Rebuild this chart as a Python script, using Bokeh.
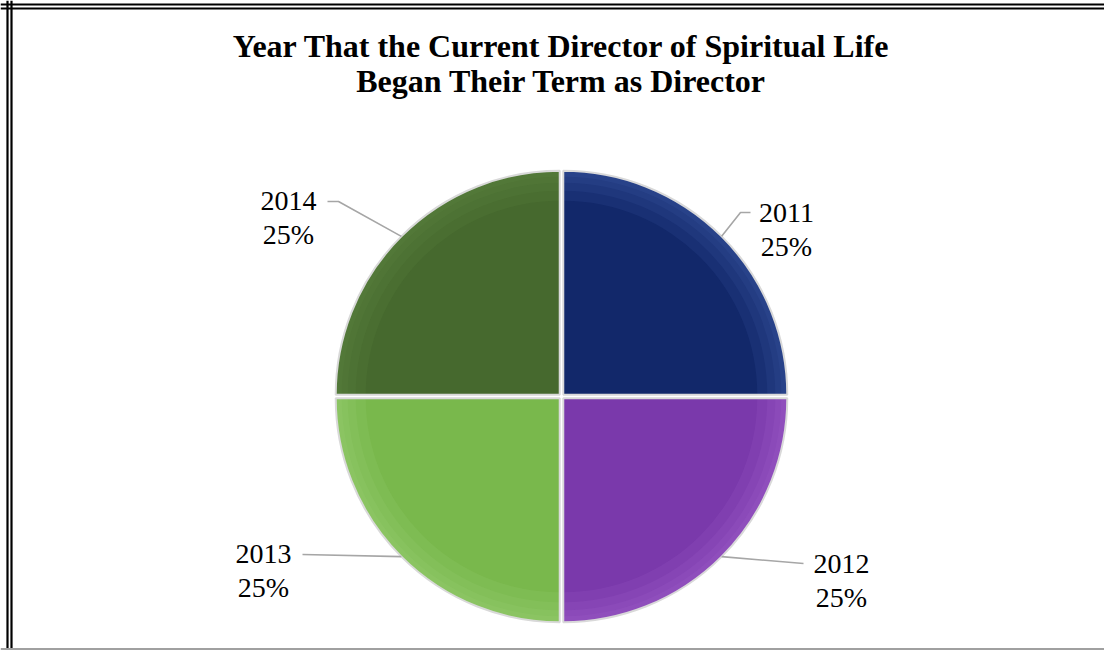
import math
from bokeh.plotting import figure
from bokeh.models import Range1d, Span, ColumnDataSource
from bokeh.core.properties import value
from bokeh.embed import file_html
from bokeh.resources import INLINE

# ---- data ----
title_lines = ["Year That the Current Director of Spiritual Life",
               "Began Their Term as Director"]
years = ["2011", "2012", "2013", "2014"]
shares = [25, 25, 25, 25]

# ---- styles ----
colors = ["#12286a", "#7a39ab", "#79b84c", "#46692e"]
rim_colors = ["#4464b0", "#a86ad8", "#a4d67e", "#668f48"]
FONT = "Liberation Serif"

# ---- layout (page pixel coordinates -> data: x = page x, y = 650 - page y) ----
W, H = 1104, 650
CX, CY = 561, 650 - 396
R = 224
EXPLODE = 2.5
# label anchor (first line) relative to pie centre
label_dx = [225, 280, -298, -273]
label_dy = [184, -167, -157, 196]
# leader: elbow and end relative to centre
elbow_dx = [179, 242, -259, -223]
elbow_dy = [184, -167, -158, 195]
end_dx = [189, 242, -259, -234]
end_dy = [184, -167, -158, 195]
LINE_GAP = 34

p = figure(width=W, height=H, output_backend="svg", toolbar_location=None,
           x_range=Range1d(0, W), y_range=Range1d(0, H),
           min_border=0, outline_line_color=None)
p.axis.visible = False
p.grid.visible = False
p.background_fill_color = "white"
p.border_fill_color = "white"

# frame lines (double border on top and left, thin grey at bottom)
for loc in [7, 11]:
    p.add_layout(Span(location=loc, dimension="height", line_color="black", line_width=2.2))
for loc in [646, 642]:
    p.add_layout(Span(location=loc, dimension="width", line_color="black", line_width=2.2))
p.add_layout(Span(location=1.5, dimension="width", line_color="#a0a0a0", line_width=2))

# wedges
total = float(sum(shares))
starts, ends, xs, ys, mids = [], [], [], [], []
cum = 0.0
for s in shares:
    a0 = math.pi / 2 - cum / total * 2 * math.pi
    cum += s
    a1 = math.pi / 2 - cum / total * 2 * math.pi
    m = (a0 + a1) / 2
    starts.append(a0)
    ends.append(a1)
    mids.append(m)
    xs.append(CX + EXPLODE * math.cos(m))
    ys.append(CY + EXPLODE * math.sin(m))

src = ColumnDataSource(dict(x=xs, y=ys, start=starts, end=ends, color=colors, rim=rim_colors))
p.wedge(x="x", y="y", radius=R, start_angle="start", end_angle="end", direction="clock",
        fill_color="color", line_color=None, source=src)
# bevel-like lighter rim (soft gradient by stacking)
for inner in [R - 30, R - 20, R - 12, R - 6]:
    p.annular_wedge(x="x", y="y", inner_radius=inner, outer_radius=R, start_angle="start",
                    end_angle="end", direction="clock", fill_color="rim", fill_alpha=0.14,
                    line_color=None, source=src)
p.wedge(x="x", y="y", radius=R, start_angle="start", end_angle="end", direction="clock",
        fill_color=None, line_color="#d9d9d9", line_width=2, source=src)

# leader lines
lx, ly = [], []
for i, m in enumerate(mids):
    ex = xs[i] + R * math.cos(m)
    ey = ys[i] + R * math.sin(m)
    lx.append([ex, CX + elbow_dx[i], CX + end_dx[i]])
    ly.append([ey, CY + elbow_dy[i], CY + end_dy[i]])
p.multi_line(xs=lx, ys=ly, line_color="#a6a6a6", line_width=1.6)

# labels
pct = ["%d%%" % round(s / total * 100) for s in shares]
tx = [CX + d for d in label_dx]
ty1 = [CY + d for d in label_dy]
ty2 = [y - LINE_GAP for y in ty1]
p.text(x=tx, y=ty1, text=years, text_font=value(FONT), text_font_size="28px",
       text_align="center", text_baseline="middle", text_color="black")
p.text(x=tx, y=ty2, text=pct, text_font=value(FONT), text_font_size="28px",
       text_align="center", text_baseline="middle", text_color="black")

# title
p.text(x=[561, 561], y=[650 - 45, 650 - 80], text=title_lines, text_font=value(FONT),
       text_font_size="32px", text_font_style="bold", text_align="center",
       text_baseline="middle", text_color="black")

open("out.html", "w").write(file_html(p, INLINE))
